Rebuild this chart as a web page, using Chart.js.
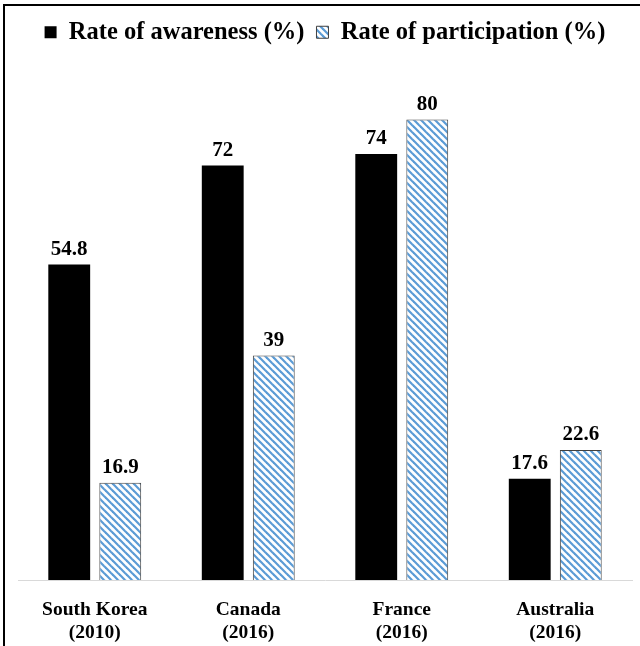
<!DOCTYPE html>
<html>
<head>
<meta charset="utf-8">
<script src="https://cdn.jsdelivr.net/npm/chart.js@4.4.0/dist/chart.umd.min.js"></script>
<style>
  html, body { margin: 0; padding: 0; background: #fff; }
  #wrap { position: relative; width: 640px; height: 646px; overflow: hidden; }
  #frame { position: absolute; left: 3px; top: 4px; width: 700px; height: 700px;
           border-left: 2px solid #000; border-top: 2px solid #000; pointer-events: none; }
  canvas { position: absolute; left: 0; top: 0; }
</style>
</head>
<body>
<div id="wrap">
  <canvas id="c" width="640" height="646"></canvas>
  <div id="frame"></div>
</div>
<script>
// ---- data ----
const categories = [
  ['South Korea', '(2010)'],
  ['Canada', '(2016)'],
  ['France', '(2016)'],
  ['Australia', '(2016)']
];
const seriesNames = ['Rate of awareness (%)', 'Rate of participation (%)'];
const awareness = [54.8, 72, 74, 17.6];
const participation = [16.9, 39, 80, 22.6];

// ---- hatch pattern ----
function makeHatch() {
  const s = 7;
  const c = document.createElement('canvas');
  c.width = s; c.height = s;
  const g = c.getContext('2d');
  g.fillStyle = '#ffffff';
  g.fillRect(0, 0, s, s);
  g.strokeStyle = '#5b9bd5';
  g.lineWidth = 2.2;
  for (let k = -s; k <= s; k += s) {
    g.beginPath();
    g.moveTo(-1, -1 + k);
    g.lineTo(s + 1, s + 1 + k);
    g.stroke();
  }
  return g.createPattern(c, 'repeat');
}
const hatch = makeHatch();

const serif = "'Liberation Serif', 'Times New Roman', serif";

const valueLabels = {
  id: 'valueLabels',
  afterDatasetsDraw(chart) {
    const ctx = chart.ctx;
    ctx.save();
    ctx.font = "bold 21px " + serif;
    ctx.fillStyle = '#000';
    ctx.textAlign = 'center';
    ctx.textBaseline = 'alphabetic';
    chart.data.datasets.forEach((ds, i) => {
      const meta = chart.getDatasetMeta(i);
      meta.data.forEach((bar, j) => {
        ctx.fillText(String(ds.data[j]), bar.x, bar.y - 10);
      });
    });
    ctx.restore();
  }
};

// fixed legend block height so the plot area starts where the reference's does
const legendHeight = {
  id: 'legendHeight',
  afterInit(chart) {
    const lg = chart.legend;
    if (!lg) return;
    const orig = lg.fit;
    lg.fit = function () { orig.call(this); this.height = 54; };
  }
};

new Chart(document.getElementById('c'), {
  type: 'bar',
  data: {
    labels: categories,
    datasets: [
      {
        label: seriesNames[0],
        data: awareness,
        backgroundColor: '#000000',
        borderWidth: 0
      },
      {
        label: seriesNames[1],
        data: participation,
        backgroundColor: hatch,
        borderColor: '#404040',
        borderWidth: 1
      }
    ]
  },
  options: {
    responsive: false,
    devicePixelRatio: 1,
    animation: false,
    layout: { padding: { left: 18, right: 8, top: 8, bottom: 0 } },
    datasets: { bar: { categoryPercentage: 0.665, barPercentage: 0.82 } },
    plugins: {
      legend: {
        position: 'top',
        labels: {
          boxWidth: 12,
          boxHeight: 12,
          padding: 12,
          color: '#000',
          font: { family: serif, size: 24.5, weight: 'bold' }
        }
      },
      tooltip: { enabled: false }
    },
    scales: {
      x: {
        grid: { display: false },
        border: { display: true, color: '#d9d9d9', width: 1 },
        afterFit: (scale) => { scale.height = 66; },
        ticks: {
          color: '#000',
          padding: 10,
          maxRotation: 0,
          font: { family: serif, size: 19.5, weight: 'bold', lineHeight: 1.18 }
        }
      },
      y: {
        display: false,
        min: 0,
        max: 90
      }
    }
  },
  plugins: [valueLabels, legendHeight]
});
</script>
</body>
</html>
